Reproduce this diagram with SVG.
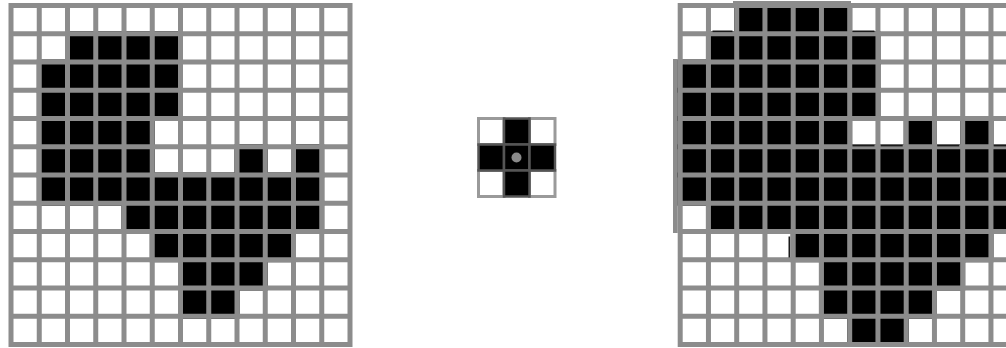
<svg xmlns="http://www.w3.org/2000/svg" width="1006" height="348" viewBox="0 0 1006 348">
<style>
.bg{fill:#fff}
.b{fill:#000}
.ln{fill:none;stroke:#8c8c8c;stroke-width:5}
.ex{fill:#8c8c8c}
.dk{fill:#1a1a1a}
.sw{fill:#fff;stroke:#9a9a9a;stroke-width:3}
.sb{fill:#000;stroke:#555;stroke-width:2.5}
</style>
<defs>
<path id="gridlines" class="ln" d="M2.5 0V344M30.75 0V344M59 0V344M87.25 0V344M115.5 0V344M143.75 0V344M172 0V344M200.25 0V344M228.5 0V344M256.75 0V344M285 0V344M313.25 0V344M341.5 0V344M0 2.5H344M0 30.75H344M0 59H344M0 87.25H344M0 115.5H344M0 143.75H344M0 172H344M0 200.25H344M0 228.5H344M0 256.75H344M0 285H344M0 313.25H344M0 341.5H344"/>
</defs>
<rect width="1006" height="348" fill="#fff"/>

<g id="input-image" transform="translate(8.5,3)">
<rect class="bg" width="344" height="344"/>
<rect class="b" x="56.5" y="28.25" width="118" height="33.25"/>
<rect class="b" x="28.25" y="56.5" width="146.25" height="33.25"/>
<rect class="b" x="28.25" y="84.75" width="146.25" height="33.25"/>
<rect class="b" x="28.25" y="113" width="118" height="33.25"/>
<rect class="b" x="28.25" y="141.25" width="118" height="33.25"/>
<rect class="b" x="226" y="141.25" width="33.25" height="33.25"/>
<rect class="b" x="282.5" y="141.25" width="33.25" height="33.25"/>
<rect class="b" x="28.25" y="169.5" width="287.5" height="33.25"/>
<rect class="b" x="113" y="197.75" width="202.75" height="33.25"/>
<rect class="b" x="141.25" y="226" width="146.25" height="33.25"/>
<rect class="b" x="169.5" y="254.25" width="89.75" height="33.25"/>
<rect class="b" x="169.5" y="282.5" width="61.5" height="33.25"/>
<use href="#gridlines"/>
</g>

<g id="structuring-element">
<rect class="sw" x="478.5" y="118.5" width="25.5" height="26"/>
<rect class="sw" x="529.5" y="118.5" width="25.5" height="26"/>
<rect class="sw" x="478.5" y="170.5" width="25.5" height="26"/>
<rect class="sw" x="529.5" y="170.5" width="25.5" height="26"/>
<rect class="sb" x="504" y="118.5" width="25.5" height="26"/>
<rect class="sb" x="478.5" y="144.5" width="25.5" height="26"/>
<rect class="sb" x="504" y="144.5" width="25.5" height="26"/>
<rect class="sb" x="529.5" y="144.5" width="25.5" height="26"/>
<rect class="sb" x="504" y="170.5" width="25.5" height="26"/>
<circle cx="516.5" cy="157.5" r="5" fill="#8a8a8a"/>
</g>

<g id="dilated-image">
<rect class="ex" x="673" y="59" width="5" height="174"/>
<rect class="ex" x="733" y="1" width="118" height="4"/>
<g transform="translate(677.7,3)">
<rect class="bg" width="344" height="344"/>
<rect class="b" x="56.5" y="0" width="118" height="33.25"/>
<rect class="b" x="28.25" y="28.25" width="174.5" height="33.25"/>
<rect class="b" x="0" y="56.5" width="202.75" height="33.25"/>
<rect class="b" x="0" y="84.75" width="202.75" height="33.25"/>
<rect class="b" x="0" y="113" width="174.5" height="33.25"/>
<rect class="b" x="226" y="113" width="33.25" height="33.25"/>
<rect class="b" x="282.5" y="113" width="33.25" height="33.25"/>
<rect class="b" x="0" y="141.25" width="344" height="33.25"/>
<rect class="b" x="0" y="169.5" width="344" height="33.25"/>
<rect class="b" x="28.25" y="197.75" width="315.75" height="33.25"/>
<rect class="b" x="113" y="226" width="202.75" height="33.25"/>
<rect class="b" x="141.25" y="254.25" width="146.25" height="33.25"/>
<rect class="b" x="141.25" y="282.5" width="118" height="33.25"/>
<rect class="b" x="169.5" y="310.75" width="61.5" height="33.25"/>
<use href="#gridlines"/>
</g>
<rect class="dk" x="712.5" y="30.5" width="20" height="1.6"/>
<rect class="dk" x="852.5" y="30.5" width="22" height="1.6"/>
<rect class="dk" x="852.5" y="144.8" width="22" height="1.6"/>
<rect class="dk" x="880.7" y="144.8" width="22" height="1.6"/>
<rect class="dk" x="937.2" y="144.8" width="22" height="1.6"/>
<rect class="dk" x="993.7" y="144.8" width="13" height="1.6"/>
<rect class="dk" x="788.5" y="236.5" width="1.6" height="21"/>
</g>
</svg>
